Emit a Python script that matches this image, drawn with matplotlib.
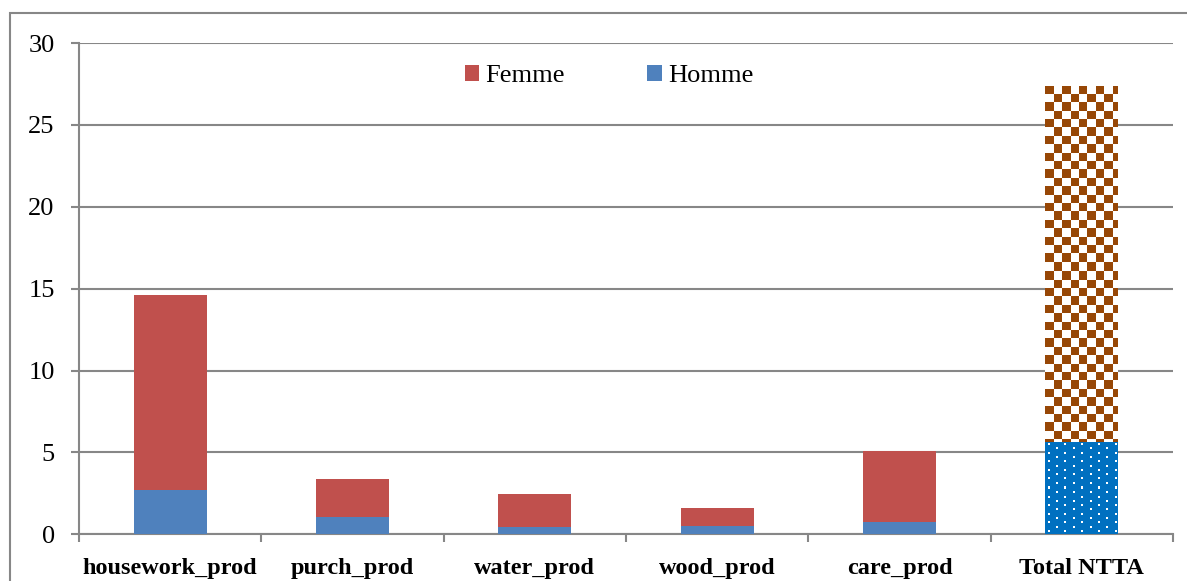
import numpy as np
import matplotlib
matplotlib.use("Agg")
import matplotlib.pyplot as plt
from matplotlib.patches import Rectangle
from matplotlib.ticker import FixedLocator

categories = ["housework_prod", "purch_prod", "water_prod", "wood_prod", "care_prod", "Total NTTA"]
homme = [2.7, 1.06, 0.43, 0.53, 0.75, 5.64]
femme = [11.92, 2.32, 2.03, 1.08, 4.36, 21.75]
yticks = [0, 5, 10, 15, 20, 25, 30]

C_FEMME = "#C0504D"
C_HOMME = "#4F81BD"
C_TOT_F = "#974706"
C_TOT_H = "#0070C0"
GRID = "#878787"

W, H, DPI = 1187, 581, 100
fig = plt.figure(figsize=(W / DPI, H / DPI), dpi=DPI)
ax = fig.add_axes([79 / W, 1 - 534.3 / H, (1173 - 79) / W, (534.3 - 43) / H])

x = np.arange(len(categories))
n = len(categories)
bw = 0.4
bh = ax.bar(x[:-1], homme[:-1], bw, color=C_HOMME, zorder=3, label="Homme")
bf = ax.bar(x[:-1], femme[:-1], bw, bottom=homme[:-1], color=C_FEMME, zorder=3, label="Femme")

# Total bar: patterned
th = ax.bar(x[-1:], homme[-1:], bw, color=C_TOT_H, zorder=3)[0]
tf = ax.bar(x[-1:], femme[-1:], bw, bottom=homme[-1:], color="white", zorder=3)[0]

ax.set_xlim(-0.5, n - 0.5)
ax.set_ylim(0, 30)


def pix_extent(patch):
    x0, y0 = patch.get_x(), patch.get_y()
    x1, y1 = x0 + patch.get_width(), y0 + patch.get_height()
    (px0, py0), (px1, py1) = ax.transData.transform([(x0, y0), (x1, y1)])
    return (x0, x1, y0, y1), int(round(px1 - px0)), int(round(py1 - py0))


# checkerboard
ext, pw, ph = pix_extent(tf)
cell = 8.4
yy, xx = np.mgrid[0:ph, 0:pw]
chk = ((np.floor(xx / cell) + np.floor(yy / cell)) % 2 == 0)
brown = np.array(matplotlib.colors.to_rgb(C_TOT_F))
img = np.ones((ph, pw, 3))
img[chk] = brown
im1 = ax.imshow(img, extent=ext, origin="upper", interpolation="nearest", aspect="auto", zorder=4)
im1.set_clip_path(tf)

# dotted
ext, pw, ph = pix_extent(th)
blue = np.array(matplotlib.colors.to_rgb(C_TOT_H))
img2 = np.tile(blue, (ph, pw, 1))
rowp = 4.3
colp = 16.8
r = 0
yv = 2.5
while yv < ph - 1:
    off = 0 if r % 2 == 0 else colp / 2
    xv = 3.0 + off
    while xv < pw - 1:
        iy, ix = int(yv), int(xv)
        img2[iy:iy + 2, ix:ix + 2] = 1.0
        xv += colp
    yv += rowp
    r += 1
im2 = ax.imshow(img2, extent=ext, origin="upper", interpolation="nearest", aspect="auto", zorder=4)
im2.set_clip_path(th)

ax.set_xlim(-0.5, n - 0.5)
ax.set_ylim(0, 30)
ax.set_aspect("auto")

# grid and spines
ax.set_yticks(yticks)
ax.yaxis.grid(True, color=GRID, linewidth=1.5, zorder=0)
ax.set_axisbelow(True)
for s in ["top", "right"]:
    ax.spines[s].set_visible(False)
for s in ["left", "bottom"]:
    ax.spines[s].set_color(GRID)
    ax.spines[s].set_linewidth(1.5)

ax.set_xticks(x)
ax.set_xticklabels(categories, fontfamily="Liberation Serif", fontweight="bold", fontsize=17.5)
ax.xaxis.set_minor_locator(FixedLocator(np.arange(-0.5, n, 1.0)))
ax.tick_params(axis="x", which="major", length=0, pad=17)
ax.tick_params(axis="x", which="minor", length=5.5, width=1.5, color=GRID, direction="out")
ax.tick_params(axis="y", length=5.5, width=1.5, color=GRID, pad=12, labelsize=19)
for t in ax.get_yticklabels():
    t.set_fontfamily("Liberation Serif")

leg = ax.legend(handles=[bf, bh], labels=["Femme", "Homme"], loc="center",
                bbox_to_anchor=(0.4845, 0.933), ncol=2, frameon=False,
                prop={"family": "Liberation Serif", "size": 19},
                handlelength=0.55, handleheight=0.55, handletextpad=0.25,
                columnspacing=3.1)

# outer frame
fig.patches.append(Rectangle((10 / W, -0.2), 1.5, 1.2 - 13 / H, transform=fig.transFigure,
                             fill=False, edgecolor=GRID, linewidth=1.5, clip_on=False))

fig.savefig("out.png", dpi=DPI)
